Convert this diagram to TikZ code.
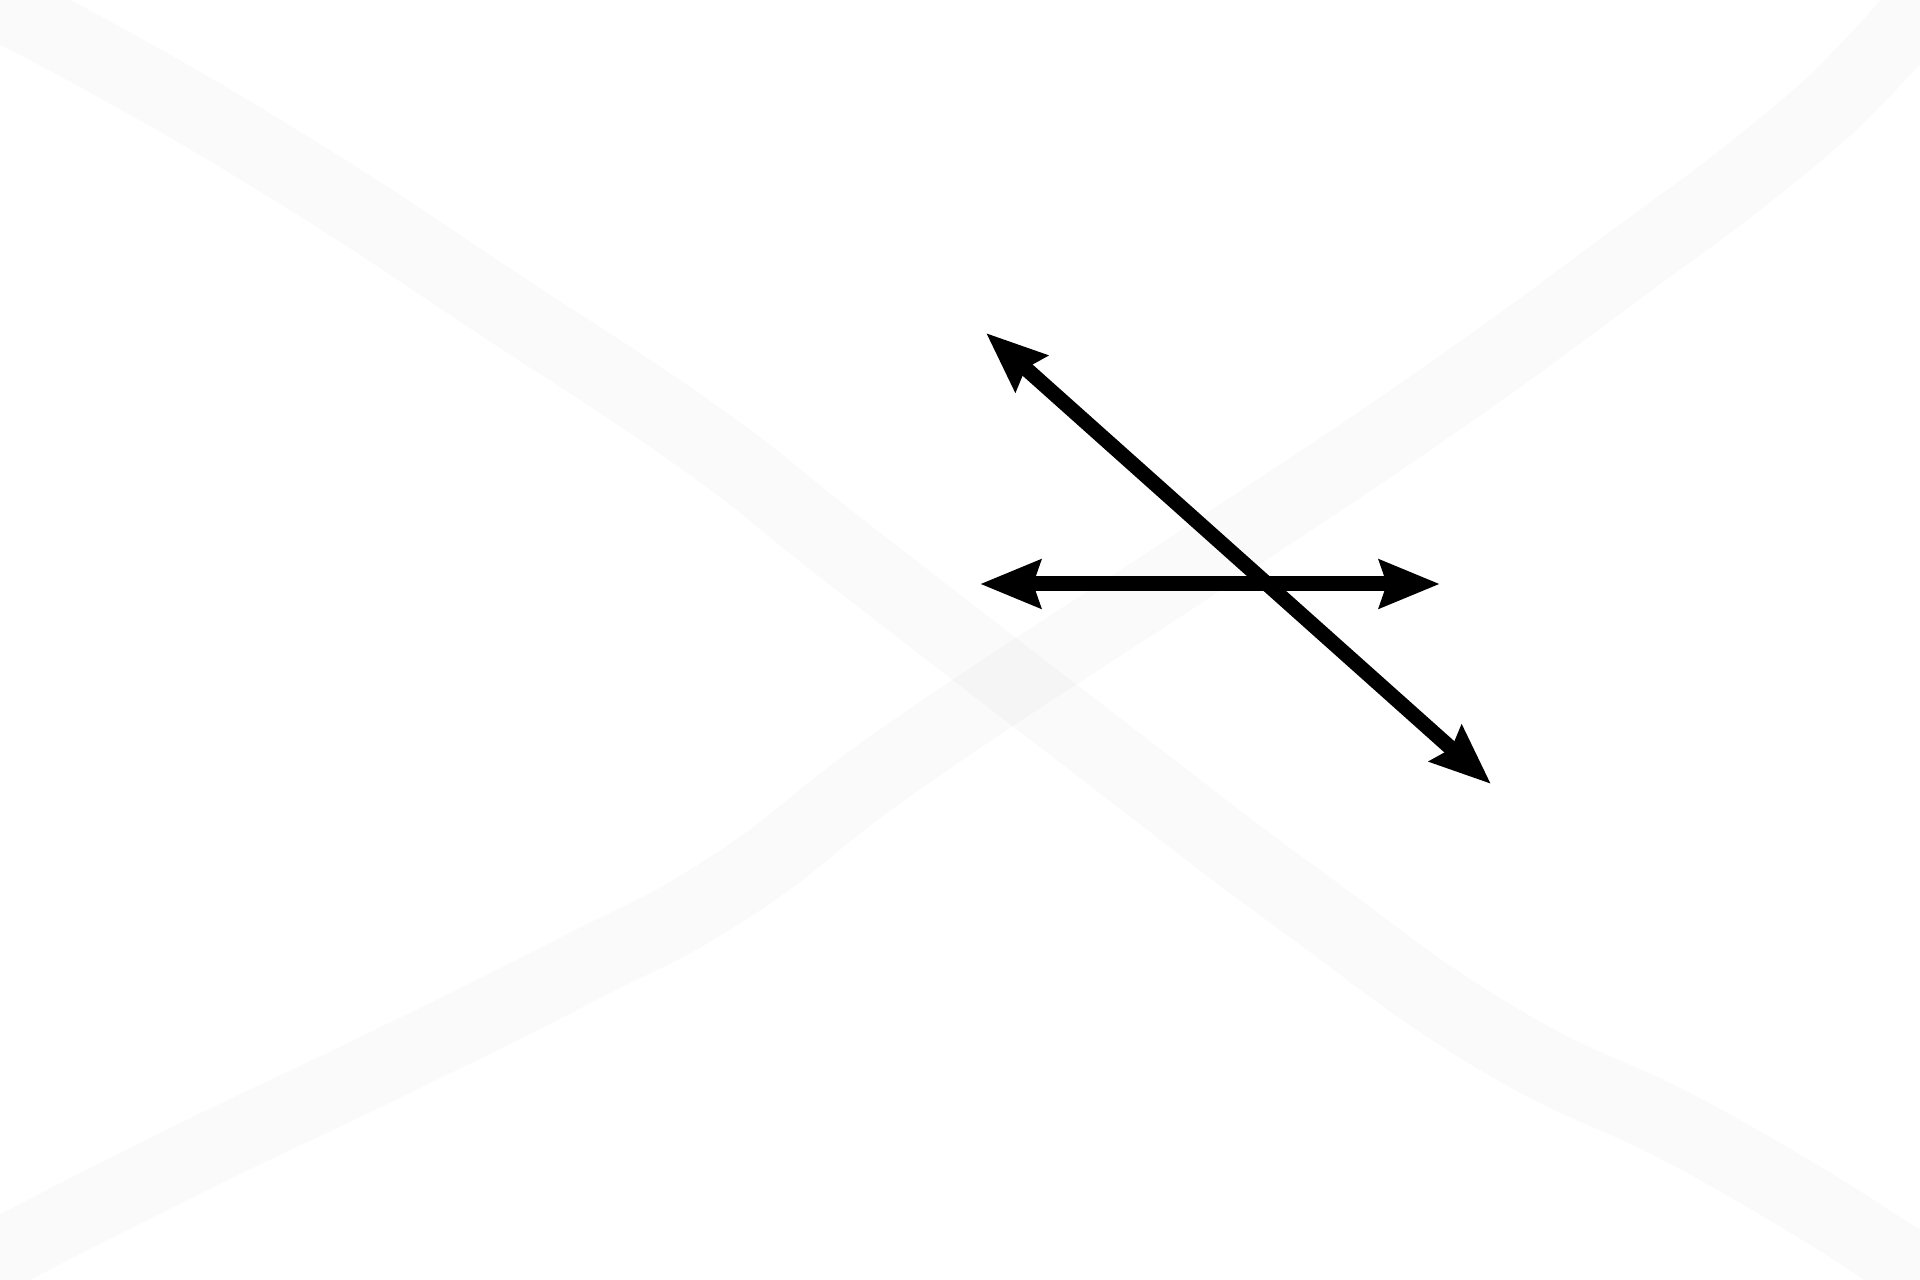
\documentclass[tikz,border=0pt]{standalone}
\usepackage{tikz}
\usetikzlibrary{arrows.meta}
\tikzstyle{band} = [line width=0.72cm, draw=black, draw opacity=0.018, line cap=round, line join=round]
\tikzstyle{line} = [draw, line width=0.15cm, {Stealth[length=0.6cm, width=0.47cm, inset=0.07cm]}-{Stealth[length=0.6cm, width=0.47cm, inset=0.07cm]}]

\begin{document}
\begin{tikzpicture}[x=0.01cm, y=-0.01cm]
	\useasboundingbox (0,0) rectangle (1920,1280);
	\clip (0,0) rectangle (1920,1280);
% Background bands
	\draw [band] plot [smooth, tension=0.8] coordinates {(-60,-25) (100,57) (300,174) (500,305) (700,438) (850,555) (1100,748) (1300,900) (1500,1040) (1700,1139) (1900,1260) (1960,1310)};
	\draw [band] plot [smooth, tension=0.8] coordinates {(-60,1290) (0,1255) (191,1158) (383,1066) (574,971) (733,885) (912,751) (1224,545) (1438,401) (1616,272) (1774,153) (1873,62) (1950,-30)};
% Arrow ends
	\coordinate (hleft) at (980,584);
	\coordinate (hright) at (1440,584);
	\coordinate (dtop) at (986,333);
	\coordinate (dbottom) at (1491,784);
% Arrows
	\path [line] (hleft) -- (hright);
	\path [line] (dtop) -- (dbottom);
\end{tikzpicture}
\end{document}
